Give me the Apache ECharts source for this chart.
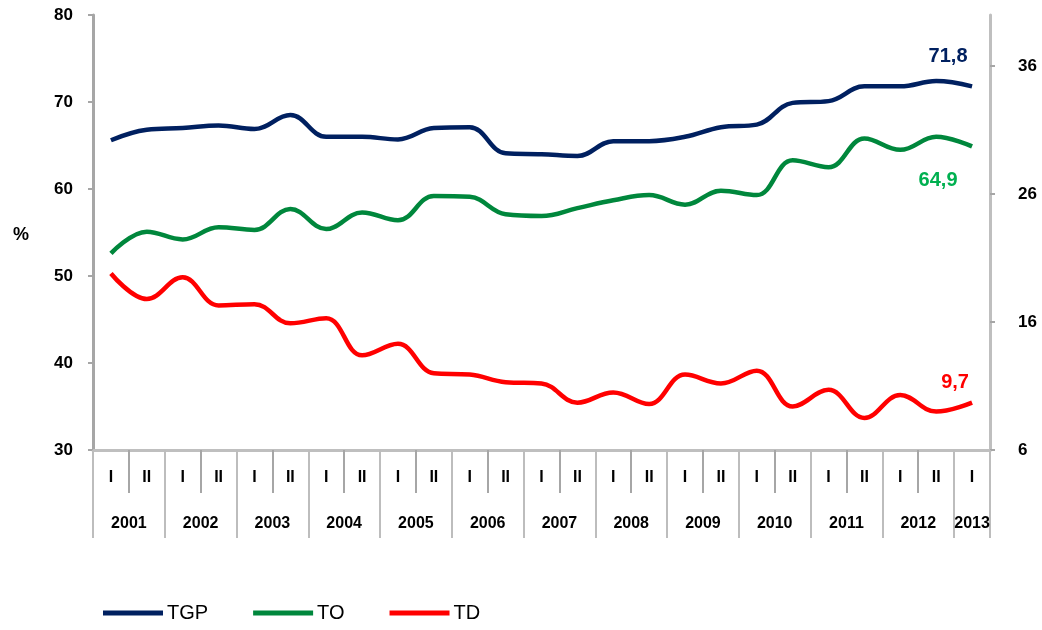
<!DOCTYPE html>
<html>
<head>
<meta charset="utf-8">
<script src="https://cdn.jsdelivr.net/npm/echarts@6/dist/echarts.min.js"></script>
<style>
html,body{margin:0;padding:0;background:#fff;}
#chart{width:1042px;height:630px;}
</style>
</head>
<body>
<div id="chart"></div>
<script>
// ---- data ----
var semesters = ['I','II','I','II','I','II','I','II','I','II','I','II','I','II','I','II','I','II','I','II','I','II','I','II','I'];
var years = ['2001','2002','2003','2004','2005','2006','2007','2008','2009','2010','2011','2012','2013'];
var tgp = [65.6, 66.8, 67.0, 67.3, 66.9, 68.5, 66.0, 66.0, 65.7, 67.0, 67.1, 64.1, 64.0, 63.8, 65.5, 65.5, 66.0, 67.1, 67.4, 69.9, 70.1, 71.8, 71.8, 72.4, 71.8];
var to = [52.6, 55.1, 54.2, 55.6, 55.3, 57.7, 55.4, 57.3, 56.4, 59.2, 59.1, 57.1, 56.9, 57.8, 58.7, 59.3, 58.2, 59.8, 59.3, 63.3, 62.5, 65.8, 64.5, 66.0, 64.9];
var td = [19.8, 17.8, 19.5, 17.3, 17.4, 15.9, 16.3, 13.4, 14.3, 12.0, 11.9, 11.3, 11.2, 9.7, 10.5, 9.6, 11.9, 11.2, 12.2, 9.4, 10.7, 8.5, 10.3, 9.0, 9.7];
var leftTicks = [30, 40, 50, 60, 70, 80];
var rightTicks = [6, 16, 26, 36];

// ---- build ----
var FONT = '"Liberation Sans", Arial, sans-serif';
var yearTickVals = [];
for (var k = 0; k <= 24; k += 2) yearTickVals.push(k);
yearTickVals.push(25);
var yearLabelVals = [];
for (var j = 0; j < years.length; j++) {
  yearLabelVals.push(j < years.length - 1 ? 2 * j + 1 : 24.5);
}
function yearFor(v) {
  var idx = v === 24.5 ? years.length - 1 : (v - 1) / 2;
  return years[idx] || '';
}
function withEndLabel(arr, color, offset) {
  return arr.map(function (v, i) {
    if (i === arr.length - 1) {
      return {
        value: v,
        label: {
          show: true, position: 'inside', offset: offset,
          formatter: String(v).replace('.', ','),
          color: color, fontSize: 20, fontWeight: 'bold', fontFamily: FONT
        }
      };
    }
    return v;
  });
}

var chart = echarts.init(document.getElementById('chart'), null, {renderer: 'canvas'});
var axisGray = '#a6a6a6';
chart.setOption({
  animation: false,
  backgroundColor: '#ffffff',
  grid: {left: 93, right: 52, top: 15, bottom: 180},
  graphic: [{
    type: 'text', left: 13, top: 226,
    style: {text: '%', fontSize: 18, fontWeight: 'bold', fontFamily: FONT, fill: '#000'}
  }],
  legend: {
    bottom: 2, left: 98,
    itemWidth: 60, itemHeight: 5, itemGap: 45,
    icon: 'rect',
    textStyle: {fontSize: 20, fontFamily: FONT, color: '#000', padding: [0, 0, 0, -1]},
    data: ['TGP', 'TO', 'TD']
  },
  xAxis: [{
    type: 'category',
    data: semesters,
    boundaryGap: true,
    position: 'bottom',
    axisLine: {show: true, lineStyle: {color: '#bfbfbf', width: 3}},
    axisTick: {show: true, length: 43, interval: 0, lineStyle: {color: axisGray, width: 2}},
    axisLabel: {interval: 0, margin: 20, fontSize: 16, fontWeight: 'bold', fontFamily: FONT, color: '#000'},
    splitLine: {show: false}
  }, {
    type: 'value',
    min: 0, max: 25,
    position: 'bottom',
    axisLine: {show: false},
    axisTick: {show: true, length: 88, customValues: yearTickVals, lineStyle: {color: '#bdbdbd', width: 2}},
    axisLabel: {show: true, margin: 66, customValues: yearLabelVals, formatter: yearFor,
      fontSize: 16, fontWeight: 'bold', fontFamily: FONT, color: '#000'},
    splitLine: {show: false}
  }],
  yAxis: [{
    type: 'value', min: leftTicks[0], max: leftTicks[leftTicks.length - 1], interval: 10,
    position: 'left',
    axisLine: {show: true, lineStyle: {color: axisGray, width: 3}},
    axisTick: {show: true, length: 5, lineStyle: {color: axisGray, width: 2}},
    axisLabel: {margin: 20, fontSize: 17, fontWeight: 'bold', fontFamily: FONT, color: '#000'},
    splitLine: {show: false}
  }, {
    type: 'value', min: rightTicks[0], max: 40, interval: 10,
    position: 'right',
    axisLine: {show: true, lineStyle: {color: '#bfbfbf', width: 3}},
    axisTick: {show: true, length: 5, lineStyle: {color: axisGray, width: 2}},
    axisLabel: {margin: 28, showMaxLabel: false, fontSize: 17, fontWeight: 'bold', fontFamily: FONT, color: '#000'},
    splitLine: {show: false}
  }],
  series: [{
    name: 'TGP', type: 'line', xAxisIndex: 0, yAxisIndex: 0,
    data: withEndLabel(tgp, '#002060', [-24, -30]),
    smooth: 0.4, showSymbol: true, symbol: 'circle', symbolSize: 0,
    color: '#002060',
    lineStyle: {color: '#002060', width: 4.5},
    z: 3
  }, {
    name: 'TO', type: 'line', xAxisIndex: 0, yAxisIndex: 0,
    data: withEndLabel(to, '#00b050', [-34, 34]),
    smooth: 0.4, showSymbol: true, symbol: 'circle', symbolSize: 0,
    color: '#00873c',
    lineStyle: {color: '#00873c', width: 4.5},
    z: 3
  }, {
    name: 'TD', type: 'line', xAxisIndex: 0, yAxisIndex: 1,
    data: withEndLabel(td, '#ff0000', [-17, -20]),
    smooth: 0.4, showSymbol: true, symbol: 'circle', symbolSize: 0,
    color: '#ff0000',
    lineStyle: {color: '#ff0000', width: 4.5},
    z: 3
  }]
});
</script>
</body>
</html>
